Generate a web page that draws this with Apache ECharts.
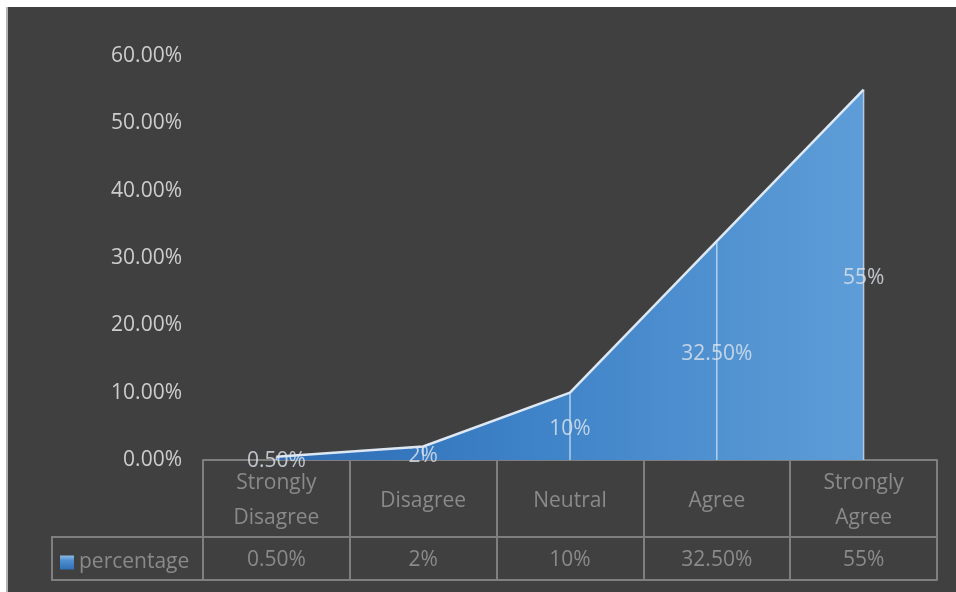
<!DOCTYPE html>
<html><head><meta charset="utf-8">
<script src="https://cdn.jsdelivr.net/npm/echarts@6/dist/echarts.min.js"></script>
<style>
html,body{margin:0;padding:0;background:#ffffff;width:956px;height:592px;overflow:hidden;}
#frame{position:absolute;left:6px;top:7px;width:950px;height:585px;background:#404040;border-left:2px solid #b3b3b3;box-sizing:border-box;}
#chart{position:absolute;left:0;top:0;width:956px;height:592px;}
</style></head>
<body><div id="frame"></div><div id="chart"></div>
<script>
const categories = ['Strongly\nDisagree', 'Disagree', 'Neutral', 'Agree', 'Strongly\nAgree'];
const values = [0.5, 2, 10, 32.5, 55];
const valueLabels = ['0.50%', '2%', '10%', '32.50%', '55%'];
const seriesName = 'percentage';
const yMin = 0, yMax = 60, yStep = 10;

const FONT = 'Open Sans';
const gridL = 203, gridR = 19, gridT = 56, gridB = 132;
const tableGray = '#7f7f7f';
const textGray = '#8a8a8a';

const chart = echarts.init(document.getElementById('chart'), null, {renderer: 'canvas'});
const H = 592;
const axisY = H - gridB;          // y of table top
const row1 = 77, row2 = 120;      // row offsets below axis

chart.setOption({
  animation: false,
  backgroundColor: 'transparent',
  textStyle: {fontFamily: FONT},
  grid: {left: gridL, right: gridR, top: gridT, bottom: gridB},
  legend: {
    left: 55, top: axisY + row1 + 10, itemWidth: 14, itemHeight: 14, itemGap: 6,
    textStyle: {color: textGray, fontSize: 21, fontFamily: FONT},
    data: [{name: seriesName, icon: 'rect',
      itemStyle: {color: new echarts.graphic.LinearGradient(0, 0, 0, 1, [
        {offset: 0, color: '#8dbbe6'}, {offset: 0.35, color: '#4f8fd0'}, {offset: 1, color: '#2e6fb8'}])}}],
    selectedMode: false
  },
  xAxis: [
    {type: 'category', data: categories, boundaryGap: true, position: 'bottom',
      axisLine: {show: true, lineStyle: {color: tableGray, width: 2}},
      axisTick: {show: true, interval: 0, length: row2, lineStyle: {color: tableGray, width: 2}},
      axisLabel: {interval: 0, color: textGray, fontSize: 21, fontFamily: FONT, lineHeight: 35,
        verticalAlign: 'middle', margin: 41}},
    {type: 'category', data: valueLabels, boundaryGap: true, position: 'bottom', offset: row1,
      axisLine: {show: true, lineStyle: {color: tableGray, width: 2}},
      axisTick: {show: false},
      axisLabel: {interval: 0, color: textGray, fontSize: 21, fontFamily: FONT,
        verticalAlign: 'middle', margin: 23}},
    {type: 'category', data: valueLabels, boundaryGap: true, position: 'bottom', offset: row2,
      axisLine: {show: true, lineStyle: {color: tableGray, width: 2}},
      axisTick: {show: false}, axisLabel: {show: false}}
  ],
  yAxis: {type: 'value', min: yMin, max: yMax, interval: yStep,
    axisLine: {show: false}, axisTick: {show: false}, splitLine: {show: false},
    axisLabel: {color: '#cdcdcd', fontSize: 21, fontFamily: FONT, margin: 21,
      padding: [8, 0, 0, 0],
      formatter: v => v.toFixed(2) + '%'}},
  series: [
    {name: seriesName, type: 'line', data: values, z: 2,
      symbol: 'none', smooth: false,
      lineStyle: {color: '#dde8f4', width: 2.5},
      itemStyle: {color: '#5b9bd5'},
      areaStyle: {opacity: 1, color: new echarts.graphic.LinearGradient(0, 0, 1, 0, [
        {offset: 0, color: '#2c6cb4'}, {offset: 0.45, color: '#3f83c8'}, {offset: 1, color: '#5e9dd7'}])}},
    {name: 'drop', type: 'bar', data: values, barWidth: 1.5, z: 3, silent: true,
      itemStyle: {color: 'rgba(215,230,245,0.75)'}},
    {name: 'labels', type: 'scatter', data: values.map(v => v / 2), z: 5, silent: true,
      symbolSize: 1, itemStyle: {color: 'rgba(0,0,0,0)'},
      label: {show: true, position: 'inside', offset: [0, 3], color: '#dfe5ec', fontSize: 21, fontFamily: FONT,
        formatter: p => valueLabels[p.dataIndex]}}
  ],
  graphic: [
    {type: 'polyline', silent: true,
      shape: {points: [[gridL, axisY + row1], [52, axisY + row1], [52, axisY + row2], [gridL, axisY + row2]]},
      style: {stroke: tableGray, lineWidth: 2, fill: null}}
  ]
});
</script></body></html>
